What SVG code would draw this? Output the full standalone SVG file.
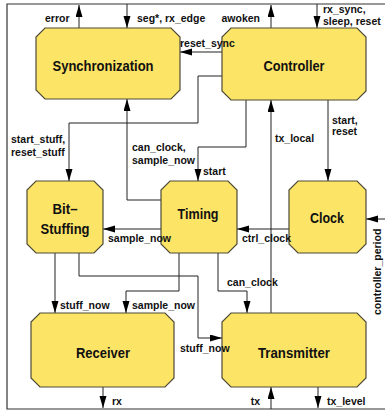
<svg xmlns="http://www.w3.org/2000/svg" width="385" height="412" viewBox="0 0 385 412">
<defs>
<marker id="ah" markerUnits="userSpaceOnUse" markerWidth="13" markerHeight="8" refX="12" refY="3.5" orient="auto">
<path d="M0,0 L12,3.5 L0,7 z" fill="#000"/>
</marker>
<style>
.node{fill:#fce466;stroke:#4d4a38;stroke-width:1.2}
.title{font-family:"Liberation Sans",Arial,sans-serif;font-weight:bold;font-size:15px;fill:#111;text-anchor:middle}
.lbl{font-family:"Liberation Sans",Arial,sans-serif;font-weight:bold;font-size:10.5px;fill:#111}
.c{fill:none;stroke:#222;stroke-width:1}
.a{marker-end:url(#ah)}
.frame{fill:none;stroke:#333;stroke-width:1.2}
</style>
</defs>
<rect width="385" height="412" fill="#fff"/>
<path class="frame" d="M385,4 H7 V409 H385"/>

<g id="connectors">
<path class="c a" d="M79,28 V5"/>
<path class="c a" d="M127,4 V28"/>
<path class="c a" d="M271,28 V5"/>
<path class="c a" d="M317,4 V28"/>
<path class="c a" d="M222,52 H180"/>
<path class="c a" d="M222,76 H198 V123 H69 V181"/>
<path class="c a" d="M161,200 H127 V99"/>
<path class="c a" d="M246,100 V147 H198 V181"/>
<path class="c a" d="M271,313 V100"/>
<path class="c a" d="M328,100 V181"/>
<path class="c a" d="M289,229 H237"/>
<path class="c a" d="M161,229 H103"/>
<path class="c a" d="M385,219 H366"/>
<path class="c a" d="M55,253 V313"/>
<path class="c a" d="M79,253 V276 H198 V338 H222"/>
<path class="c a" d="M179,253 V291 H126 V313"/>
<path class="c a" d="M218,253 V291 H247 V313"/>
<path class="c a" d="M103,387 V408"/>
<path class="c a" d="M271,409 V387"/>
<path class="c a" d="M318,387 V408"/>
</g>

<g id="synchronization">
<polygon class="node" points="45,28 171,28 180,37 180,90 171,99 45,99 36,90 36,37"/>
<text class="title" x="103" y="71" textLength="101" lengthAdjust="spacingAndGlyphs">Synchronization</text>
</g>
<g id="controller">
<polygon class="node" points="231,28 357,28 366,37 366,91 357,100 231,100 222,91 222,37"/>
<text class="title" x="294" y="71" textLength="61" lengthAdjust="spacingAndGlyphs">Controller</text>
</g>
<g id="bit-stuffing">
<polygon class="node" points="36,181 94,181 103,190 103,244 94,253 36,253 27,244 27,190"/>
<text class="title" x="65" y="214" textLength="25" lengthAdjust="spacingAndGlyphs">Bit–</text>
<text class="title" x="65" y="234" textLength="49" lengthAdjust="spacingAndGlyphs">Stuffing</text>
</g>
<g id="timing">
<polygon class="node" points="170,181 228,181 237,190 237,244 228,253 170,253 161,244 161,190"/>
<text class="title" x="198" y="219" textLength="41" lengthAdjust="spacingAndGlyphs">Timing</text>
</g>
<g id="clock">
<polygon class="node" points="298,181 357,181 366,190 366,244 357,253 298,253 289,244 289,190"/>
<text class="title" x="327" y="223" textLength="34" lengthAdjust="spacingAndGlyphs">Clock</text>
</g>
<g id="receiver">
<polygon class="node" points="40,313 165,313 174,322 174,378 165,387 40,387 31,378 31,322"/>
<text class="title" x="103" y="358" textLength="54" lengthAdjust="spacingAndGlyphs">Receiver</text>
</g>
<g id="transmitter">
<polygon class="node" points="231,313 357,313 366,322 366,378 357,387 231,387 222,378 222,322"/>
<text class="title" x="294" y="358" textLength="72" lengthAdjust="spacingAndGlyphs">Transmitter</text>
</g>

<g id="connector-labels">
<text class="lbl" x="45" y="22">error</text>
<text class="lbl" x="137" y="22">seg*, rx_edge</text>
<text class="lbl" x="260" y="22" text-anchor="end">awoken</text>
<text class="lbl" x="323" y="13">rx_sync,</text>
<text class="lbl" x="323" y="25">sleep, reset</text>
<text class="lbl" x="180" y="47">reset_sync</text>
<text class="lbl" x="11" y="143">start_stuff,</text>
<text class="lbl" x="11" y="156">reset_stuff</text>
<text class="lbl" x="132" y="151">can_clock,</text>
<text class="lbl" x="132" y="164">sample_now</text>
<text class="lbl" x="203" y="175">start</text>
<text class="lbl" x="275" y="142">tx_local</text>
<text class="lbl" x="332" y="124">start,</text>
<text class="lbl" x="332" y="135">reset</text>
<text class="lbl" x="242" y="242">ctrl_clock</text>
<text class="lbl" x="108" y="242">sample_now</text>
<text class="lbl" transform="translate(381,315) rotate(-90)">controller_period</text>
<text class="lbl" x="60" y="309">stuff_now</text>
<text class="lbl" x="132" y="309">sample_now</text>
<text class="lbl" x="227" y="286">can_clock</text>
<text class="lbl" x="180" y="352">stuff_now</text>
<text class="lbl" x="112" y="405">rx</text>
<text class="lbl" x="260" y="405" text-anchor="end">tx</text>
<text class="lbl" x="327" y="405">tx_level</text>
</g>
</svg>
